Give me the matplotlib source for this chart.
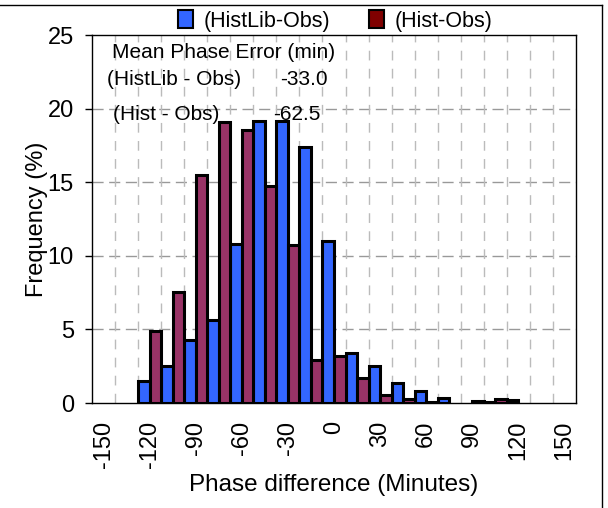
import numpy as np
import matplotlib
matplotlib.use('Agg')
import matplotlib.pyplot as plt
from matplotlib.patches import Patch
from matplotlib.lines import Line2D

plt.rcParams['font.family'] = ['Liberation Sans', 'DejaVu Sans']

# phase difference bins (minutes) and frequencies (%)
bins = [-150, -135, -120, -105, -90, -75, -60, -45, -30, -15, 0,
        15, 30, 45, 60, 75, 90, 105, 120, 135, 150]
histlib_obs = [0, 0, 1.47, 2.49, 4.26, 5.66, 10.78, 19.16, 19.16, 17.39, 10.98,
               3.42, 2.49, 1.36, 0.79, 0.37, 0, 0.1, 0.2, 0, 0]
hist_obs = [0, 0, 4.87, 7.57, 15.47, 19.09, 18.53, 14.74, 10.71, 2.95, 3.17,
            1.72, 0.57, 0.25, 0.1, 0, 0.13, 0.3, 0, 0, 0]
tick_vals = [-150, -120, -90, -60, -30, 0, 30, 60, 90, 120, 150]
tick_labels = ['-150', '-120', '-90', '-60', '-30', '0', '30', '60', '90', '120', '150']
mean_err = {'(HistLib - Obs)': '-33.0', '(Hist - Obs)': '-62.5'}

W, H = 608, 508
fig = plt.figure(figsize=(W / 100, H / 100), dpi=100)
ax = fig.add_axes([92 / W, 1 - 403 / H, 484 / W, 368 / H])

x = np.array(bins, dtype=float)
h1 = np.array(histlib_obs)
h2 = np.array(hist_obs)
bw = 7.5
m1 = h1 > 0
m2 = h2 > 0
ax.bar(x[m1] - bw / 2, h1[m1], width=bw, color='#3366FF', edgecolor='black',
       linewidth=2.2, zorder=3)
ax.bar(x[m2] + bw / 2, h2[m2], width=bw, color='#993366', edgecolor='black',
       linewidth=2.2, zorder=3)

ax.set_xlim(-157.5, 157.5)
ax.set_ylim(0, 25)

# grid lines
for yv in [5, 10, 15, 20]:
    ax.axhline(yv, color='#999999', lw=1, ls=(0, (8, 4)), zorder=1)
for xv in np.arange(-142.5, 150, 15):
    ax.axvline(xv, color='#bbbbbb', lw=1, ls=(0, (7, 6)), zorder=1)

ax.set_yticks([0, 5, 10, 15, 20, 25])
ax.tick_params(axis='y', direction='out', length=5, width=1, pad=8, labelsize=17)
ax.set_xticks(tick_vals)
ax.set_xticklabels(tick_labels, rotation=90)
ax.tick_params(axis='x', length=0, pad=13, labelsize=17)

for s in ax.spines.values():
    s.set_linewidth(1)

ax.set_xlabel('Phase difference (Minutes)', fontsize=17.5, labelpad=4)
ax.set_ylabel('Frequency (%)', fontsize=17, labelpad=0)

# mean phase error text
def px(xp, yp):
    return xp / W, 1 - yp / H

fig.text(*px(112, 52), 'Mean Phase Error (min)', fontsize=15, va='center')
fig.text(*px(107, 80), '(HistLib - Obs)', fontsize=15, va='center')
fig.text(*px(280, 80), mean_err['(HistLib - Obs)'], fontsize=15, va='center')
fig.text(*px(113, 115), '(Hist - Obs)', fontsize=15, va='center')
fig.text(*px(273, 115), mean_err['(Hist - Obs)'], fontsize=15, va='center')

handles = [Patch(facecolor='#3366FF', edgecolor='black', linewidth=1.5),
           Patch(facecolor='#800000', edgecolor='black', linewidth=1.5)]
fig.legend(handles, ['(HistLib-Obs)', '(Hist-Obs)'], ncol=2, loc='center',
           bbox_to_anchor=(335 / W, 1 - 21 / H), frameon=False, fontsize=15.5,
           handlelength=0.7, handleheight=0.85, handletextpad=0.5,
           columnspacing=1.8, borderpad=0)

# figure border (top and right)
fig.add_artist(Line2D([0, 602 / W], [1 - 5 / H, 1 - 5 / H], color='black', lw=1))
fig.add_artist(Line2D([602 / W, 602 / W], [1 - 5 / H, 0], color='black', lw=1))

fig.savefig('out.png', dpi=100)
